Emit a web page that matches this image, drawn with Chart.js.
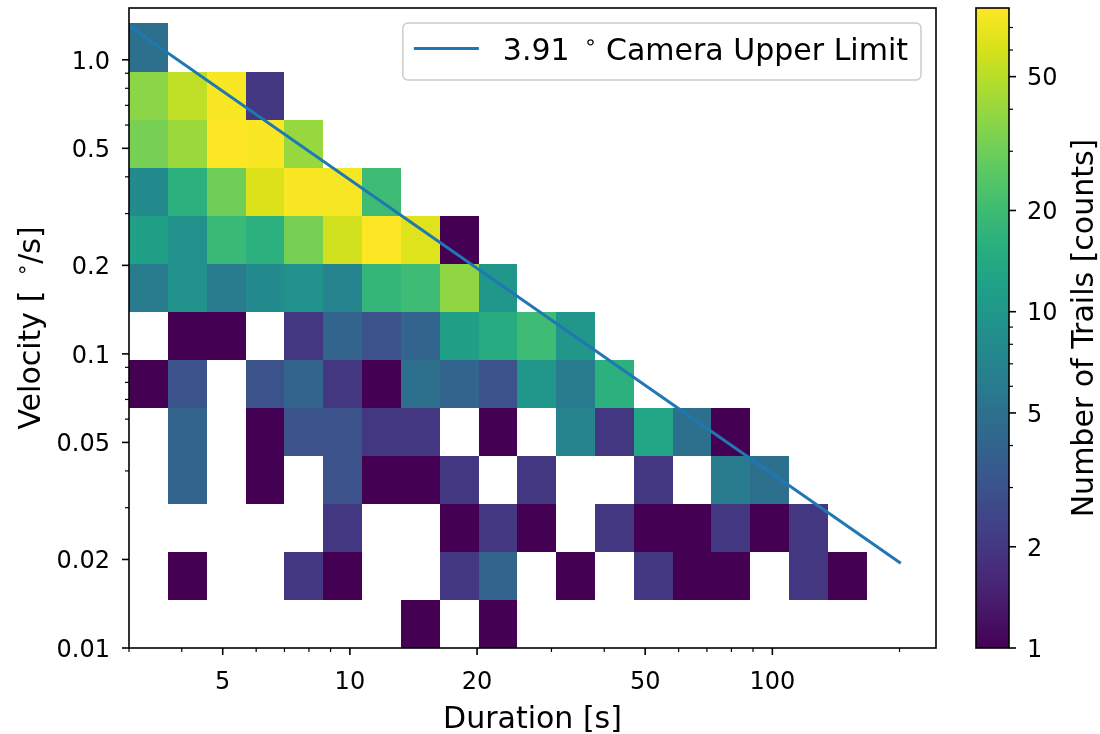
<!DOCTYPE html>
<html>
<head>
<meta charset="utf-8">
<title>Trail duration vs velocity</title>
<script src="https://cdn.jsdelivr.net/npm/chart.js@4.4.1/dist/chart.umd.min.js"></script>
<style>
  html, body { margin: 0; padding: 0; background: #ffffff; }
  #wrap { position: relative; width: 1100px; height: 734px; overflow: hidden; }
  #main { position: absolute; left: 0; top: 0; }
  #cbar { position: absolute; left: 940px; top: 0; }
</style>
</head>
<body>
<div id="wrap">
  <canvas id="main" width="1100" height="734"></canvas>
  <canvas id="cbar" width="160" height="734"></canvas>
</div>
<script>
// ---- histogram bins (log-spaced) ----
const durationEdges = [3.000, 3.707, 4.581, 5.661, 6.995, 8.644, 10.68, 13.20, 16.31, 20.16,
                       24.91, 30.78, 38.04, 47.00, 58.08, 71.77, 88.69, 109.6, 135.4, 167.3];
const velocityEdges = [0.01, 0.01457, 0.02122, 0.03091, 0.04502, 0.06557, 0.09551,
                       0.1391, 0.2026, 0.2952, 0.4299, 0.6263, 0.9122, 1.329];

// ---- trail counts per velocity bin (lowest velocity first), one value per duration bin ----
const countsRow00 = [0, 0, 0, 0, 0, 0, 0, 1, 0, 1, 0, 0, 0, 0, 0, 0, 0, 0, 0];
const countsRow01 = [0, 1, 0, 0, 2, 1, 0, 0, 2, 4, 0, 1, 0, 2, 1, 1, 0, 2, 1];
const countsRow02 = [0, 0, 0, 0, 0, 2, 0, 0, 1, 2, 1, 0, 2, 1, 1, 2, 1, 2, 0];
const countsRow03 = [0, 4, 0, 1, 0, 3, 1, 1, 2, 0, 2, 0, 0, 2, 0, 6, 5, 0, 0];
const countsRow04 = [0, 4, 0, 1, 3, 3, 2, 2, 0, 1, 0, 7, 2, 13, 5, 1, 0, 0, 0];
const countsRow05 = [1, 3, 0, 3, 4, 2, 1, 5, 4, 3, 10, 6, 16, 0, 0, 0, 0, 0, 0];
const countsRow06 = [0, 1, 1, 0, 2, 4, 3, 4, 12, 15, 20, 10, 0, 0, 0, 0, 0, 0, 0];
const countsRow07 = [6, 9, 6, 8, 9, 7, 18, 20, 38, 10, 0, 0, 0, 0, 0, 0, 0, 0, 0];
const countsRow08 = [12, 9, 19, 16, 32, 58, 80, 64, 1, 0, 0, 0, 0, 0, 0, 0, 0, 0, 0];
const countsRow09 = [8, 16, 30, 62, 78, 76, 20, 0, 0, 0, 0, 0, 0, 0, 0, 0, 0, 0, 0];
const countsRow10 = [32, 41, 80, 78, 40, 0, 0, 0, 0, 0, 0, 0, 0, 0, 0, 0, 0, 0, 0];
const countsRow11 = [37, 52, 78, 2, 0, 0, 0, 0, 0, 0, 0, 0, 0, 0, 0, 0, 0, 0, 0];
const countsRow12 = [5, 0, 0, 0, 0, 0, 0, 0, 0, 0, 0, 0, 0, 0, 0, 0, 0, 0, 0];

// ---- camera limit line ----
const limitDegrees = 3.91;
const limitDurations = [3, 200];
const limitLabelNumber = '3.91';
const limitLabelRest = ' Camera Upper Limit';

// ---- axes ----
const durationRange = [3, 244];
const velocityRange = [0.01, 1.5];
const countRange = [1, 80];
const xMajorTicks = [5, 10, 20, 50, 100];
const xMajorLabels = ['5', '10', '20', '50', '100'];
const xMinorTicks = [3, 4, 6, 7, 8, 9, 30, 40, 60, 70, 80, 90, 200];
const yMajorTicks = [0.01, 0.02, 0.05, 0.1, 0.2, 0.5, 1.0];
const yMajorLabels = ['0.01', '0.02', '0.05', '0.1', '0.2', '0.5', '1.0'];
const yMinorTicks = [0.03, 0.04, 0.06, 0.07, 0.08, 0.09, 0.3, 0.4, 0.6, 0.7, 0.8, 0.9];
const cbMajorTicks = [1, 2, 5, 10, 20, 50];
const cbMajorLabels = ['1', '2', '5', '10', '20', '50'];
const cbMinorTicks = [3, 4, 6, 7, 8, 9, 30, 40, 60, 70];

const xTitle = 'Duration [s]';
const yTitleHead = 'Velocity [';
const yTitleTail = '/s]';
const cbTitle = 'Number of Trails [counts]';
const ringGlyph = '\u2218';

const trailCounts = [countsRow00, countsRow01, countsRow02, countsRow03, countsRow04,
  countsRow05, countsRow06, countsRow07, countsRow08, countsRow09, countsRow10,
  countsRow11, countsRow12];

// ---- viridis colour map ----
const VIRIDIS = ['#440154', '#48186a', '#472d7b', '#424086', '#3b528b', '#33638d',
  '#2c728e', '#26828e', '#21918c', '#1fa088', '#28ae80', '#3fbc73', '#5ec962',
  '#84d44b', '#addc30', '#d8e219', '#fde725'];
function hexRgb(h) { return [1, 3, 5].map(i => parseInt(h.substr(i, 2), 16)); }
const VIRIDIS_RGB = VIRIDIS.map(hexRgb);
function viridis(t) {
  t = Math.max(0, Math.min(1, t));
  const f = t * (VIRIDIS_RGB.length - 1);
  const i = Math.min(Math.floor(f), VIRIDIS_RGB.length - 2);
  const u = f - i;
  const a = VIRIDIS_RGB[i], b = VIRIDIS_RGB[i + 1];
  const c = a.map((v, k) => Math.round(v + (b[k] - v) * u));
  return `rgb(${c[0]},${c[1]},${c[2]})`;
}
function countColor(n) {
  const t = Math.log(n / countRange[0]) / Math.log(countRange[1] / countRange[0]);
  return viridis(t);
}

const FONT = '"DejaVu Sans", "Liberation Sans", sans-serif';
const TICK_PX = 24;
const LABEL_PX = 30;
const MAJOR_LEN = 7, MINOR_LEN = 4;
const GAP_BEFORE = 0.36, GAP_AFTER = 0.3;

// text with a small raised ring between head and tail
function ringMetrics(ctx, size) {
  ctx.font = `${Math.round(size * 0.7)}px ${FONT}`;
  const m = ctx.measureText(ringGlyph);
  return { left: m.actualBoundingBoxLeft, width: m.actualBoundingBoxRight + m.actualBoundingBoxLeft,
           asc: m.actualBoundingBoxAscent, desc: m.actualBoundingBoxDescent };
}
function ringTextWidth(ctx, head, tail, size) {
  const r = ringMetrics(ctx, size);
  ctx.font = `${size}px ${FONT}`;
  return ctx.measureText(head).width + ctx.measureText(tail).width + r.width + size * (GAP_BEFORE + GAP_AFTER);
}
function drawRingText(ctx, x, y, head, tail, size) {
  const r = ringMetrics(ctx, size);
  ctx.font = `${size}px ${FONT}`;
  ctx.textAlign = 'left';
  ctx.textBaseline = 'alphabetic';
  ctx.fillText(head, x, y);
  let cx = x + ctx.measureText(head).width + size * GAP_BEFORE;
  ctx.font = `${Math.round(size * 0.7)}px ${FONT}`;
  const centerY = y - size * 0.57;
  ctx.fillText(ringGlyph, cx + r.left, centerY + (r.asc - r.desc) / 2);
  cx += r.width + size * GAP_AFTER;
  ctx.font = `${size}px ${FONT}`;
  ctx.fillText(tail, cx, y);
}

// 2-D histogram cells
const histogramPlugin = {
  id: 'trailHistogram',
  beforeDatasetsDraw(chart) {
    const { ctx, chartArea: a, scales: { x, y } } = chart;
    ctx.save();
    ctx.beginPath();
    ctx.rect(a.left, a.top, a.width, a.height);
    ctx.clip();
    trailCounts.forEach((row, r) => row.forEach((n, c) => {
      if (!n) return;
      const x0 = Math.round(x.getPixelForValue(durationEdges[c]));
      const x1 = Math.round(x.getPixelForValue(durationEdges[c + 1]));
      const y0 = Math.round(y.getPixelForValue(velocityEdges[r + 1]));
      const y1 = Math.round(y.getPixelForValue(velocityEdges[r]));
      ctx.fillStyle = countColor(n);
      ctx.fillRect(x0, y0, x1 - x0, y1 - y0);
    }));
    ctx.restore();
  }
};

// frame, ticks, tick labels, axis titles and legend
const framePlugin = {
  id: 'axesFrame',
  afterDatasetsDraw(chart) {
    const { ctx, chartArea: a, scales: { x, y } } = chart;
    ctx.save();
    ctx.strokeStyle = '#000';
    ctx.fillStyle = '#000';
    const tick = (px, py, dx, dy, w) => {
      ctx.lineWidth = w;
      ctx.beginPath(); ctx.moveTo(px, py); ctx.lineTo(px + dx, py + dy); ctx.stroke();
    };
    xMajorTicks.forEach(v => tick(x.getPixelForValue(v), a.bottom, 0, MAJOR_LEN, 1.6));
    xMinorTicks.forEach(v => tick(x.getPixelForValue(v), a.bottom, 0, MINOR_LEN, 1.2));
    yMajorTicks.forEach(v => tick(a.left, y.getPixelForValue(v), -MAJOR_LEN, 0, 1.6));
    yMinorTicks.forEach(v => tick(a.left, y.getPixelForValue(v), -MINOR_LEN, 0, 1.2));
    ctx.lineWidth = 1.6;
    ctx.strokeRect(a.left, a.top, a.width, a.height);

    ctx.font = `${TICK_PX}px ${FONT}`;
    ctx.textBaseline = 'alphabetic';
    const digitHalf = TICK_PX * 0.3645;
    ctx.textAlign = 'center';
    xMajorTicks.forEach((v, i) => ctx.fillText(xMajorLabels[i], x.getPixelForValue(v), a.bottom + 32 + digitHalf));
    ctx.textAlign = 'right';
    yMajorTicks.forEach((v, i) => ctx.fillText(yMajorLabels[i], a.left - 19, y.getPixelForValue(v) + digitHalf));

    ctx.font = `${LABEL_PX}px ${FONT}`;
    ctx.textAlign = 'center';
    ctx.fillText(xTitle, (a.left + a.right) / 2, a.bottom + 80);

    const w = ringTextWidth(ctx, yTitleHead, yTitleTail, LABEL_PX);
    ctx.save();
    ctx.translate(40, (a.top + a.bottom) / 2);
    ctx.rotate(-Math.PI / 2);
    drawRingText(ctx, -w / 2, 0, yTitleHead, yTitleTail, LABEL_PX);
    ctx.restore();

    // legend box in the upper right corner
    const right = a.right - 15, top = a.top + 15, h = 57;
    const textW = ringTextWidth(ctx, limitLabelNumber, limitLabelRest, LABEL_PX);
    const left = right - (100 + textW + 13);
    ctx.beginPath();
    ctx.roundRect(left, top, right - left, h, 5);
    ctx.fillStyle = 'rgba(255,255,255,0.8)';
    ctx.fill();
    ctx.strokeStyle = '#cccccc';
    ctx.lineWidth = 1.5;
    ctx.stroke();
    const ds = chart.data.datasets[0];
    ctx.strokeStyle = ds.borderColor;
    ctx.lineWidth = ds.borderWidth;
    ctx.beginPath();
    ctx.moveTo(left + 11, top + 25.5);
    ctx.lineTo(left + 76, top + 25.5);
    ctx.stroke();
    ctx.fillStyle = '#000';
    drawRingText(ctx, left + 100, top + 37, limitLabelNumber, limitLabelRest, LABEL_PX);
    ctx.restore();
  }
};

new Chart(document.getElementById('main'), {
  type: 'scatter',
  data: {
    datasets: [{
      label: limitLabelNumber + '\u00b0' + limitLabelRest,
      data: limitDurations.map(d => ({ x: d, y: limitDegrees / d })),
      showLine: true,
      borderColor: '#1f77b4',
      backgroundColor: '#1f77b4',
      borderWidth: 3,
      borderCapStyle: 'square',
      pointRadius: 0,
      fill: false,
      tension: 0
    }]
  },
  options: {
    responsive: false,
    animation: false,
    events: [],
    layout: { padding: { left: 0, top: 8, right: 164, bottom: 0 } },
    plugins: { legend: { display: false }, tooltip: { enabled: false } },
    scales: {
      x: {
        type: 'logarithmic', min: durationRange[0], max: durationRange[1],
        ticks: { display: false }, grid: { display: false }, border: { display: false },
        afterFit(s) { s.height = 86; }
      },
      y: {
        type: 'logarithmic', min: velocityRange[0], max: velocityRange[1],
        ticks: { display: false }, grid: { display: false }, border: { display: false },
        afterFit(s) { s.width = 129; }
      }
    }
  },
  plugins: [histogramPlugin, framePlugin]
});

// colour bar
const colorbarPlugin = {
  id: 'colorbar',
  afterDraw(chart) {
    const { ctx, chartArea: a, scales: { y } } = chart;
    ctx.save();
    const g = ctx.createLinearGradient(0, a.bottom, 0, a.top);
    VIRIDIS.forEach((c, i) => g.addColorStop(i / (VIRIDIS.length - 1), c));
    ctx.fillStyle = g;
    ctx.fillRect(a.left, a.top, a.width, a.height);
    ctx.strokeStyle = '#000';
    ctx.lineWidth = 1.6;
    ctx.strokeRect(a.left, a.top, a.width, a.height);
    const tick = (v, len, w) => {
      const py = y.getPixelForValue(v);
      ctx.lineWidth = w;
      ctx.beginPath(); ctx.moveTo(a.right, py); ctx.lineTo(a.right + len, py); ctx.stroke();
    };
    cbMajorTicks.forEach(v => tick(v, MAJOR_LEN, 1.6));
    cbMinorTicks.forEach(v => tick(v, MINOR_LEN, 1.2));
    ctx.fillStyle = '#000';
    ctx.font = `${TICK_PX}px ${FONT}`;
    ctx.textAlign = 'left';
    ctx.textBaseline = 'alphabetic';
    cbMajorTicks.forEach((v, i) => ctx.fillText(cbMajorLabels[i], a.right + 18, y.getPixelForValue(v) + TICK_PX * 0.3645));
    ctx.font = `${LABEL_PX}px ${FONT}`;
    ctx.textAlign = 'center';
    ctx.translate(153, (a.top + a.bottom) / 2);
    ctx.rotate(-Math.PI / 2);
    ctx.fillText(cbTitle, 0, 0);
    ctx.restore();
  }
};

new Chart(document.getElementById('cbar'), {
  type: 'scatter',
  data: { datasets: [] },
  options: {
    responsive: false,
    animation: false,
    events: [],
    layout: { padding: { left: 36, top: 8, right: 0, bottom: 86 } },
    plugins: { legend: { display: false }, tooltip: { enabled: false } },
    scales: {
      x: { type: 'linear', display: false, min: 0, max: 1 },
      y: {
        type: 'logarithmic', position: 'right', min: countRange[0], max: countRange[1],
        ticks: { display: false }, grid: { display: false }, border: { display: false },
        afterFit(s) { s.width = 91; }
      }
    }
  },
  plugins: [colorbarPlugin]
});
</script>
</body>
</html>
